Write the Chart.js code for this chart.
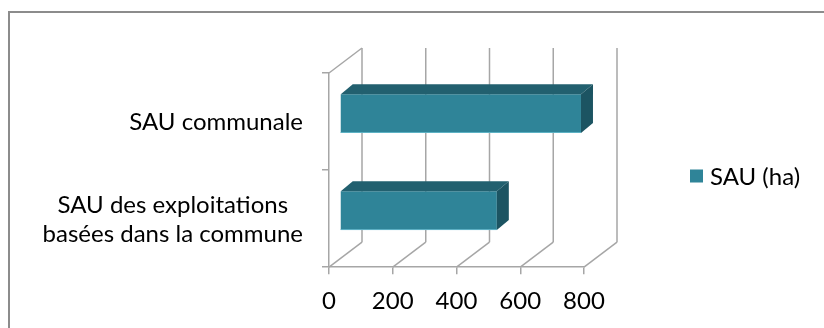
<!DOCTYPE html>
<html>
<head>
<meta charset="utf-8">
<script src="https://cdn.jsdelivr.net/npm/chart.js@4.4.1/dist/chart.umd.min.js"></script>
<style>
  html, body { margin: 0; padding: 0; background: #fff; }
  #wrap { width: 824px; height: 328px; }
</style>
</head>
<body>
<div id="wrap"><canvas id="sauChart" width="824" height="328"></canvas></div>
<script>
// categories, listed top to bottom
const categories = ['SAU communale', ['SAU des exploitations', 'basées dans la commune']];
const seriesLabel = 'SAU (ha)';
const sauValues = [756, 492];
const xMax = 800;
const xStep = 200;

const FONT = 'Lato';
const GRID = '#a6a6a6';
const FRONT = '#2f8498';
const TOP = '#22606f';
const SIDE = '#1c5462';

// depth of the box: back wall offset, and where the bars sit inside it
const WALL_DX = 33, WALL_DY = -25;
const BAR_DX = 11, BAR_DY = -8;
const BAR_DEPTH_X = 12, BAR_DEPTH_Y = -10;

function line(ctx, x1, y1, x2, y2) {
    ctx.beginPath();
    ctx.moveTo(x1, y1);
    ctx.lineTo(x2, y2);
    ctx.stroke();
}

const box3d = {
    id: 'box3d',
    beforeDraw(chart) {
        const ctx = chart.ctx;
        ctx.save();
        ctx.strokeStyle = '#8c8c8c';
        ctx.lineWidth = 2;
        ctx.strokeRect(9, 12, 900, 400);
        ctx.restore();
    },
    beforeDatasetsDraw(chart) {
        const { ctx, chartArea: area, scales: { x } } = chart;
        ctx.save();
        ctx.strokeStyle = GRID;
        ctx.lineWidth = 1.5;
        // side wall top edge
        line(ctx, area.left, area.top, area.left + WALL_DX, area.top + WALL_DY);
        x.ticks.forEach(t => {
            const px = x.getPixelForValue(t.value);
            // floor diagonal
            line(ctx, px, area.bottom, px + WALL_DX, area.bottom + WALL_DY);
            // back wall gridline
            line(ctx, px + WALL_DX, area.bottom + WALL_DY, px + WALL_DX, area.top + WALL_DY);
        });
        ctx.restore();
    },
    beforeDatasetDraw(chart) {
        chart.ctx.save();
        chart.ctx.translate(BAR_DX, BAR_DY);
    },
    afterDatasetDraw(chart, args) {
        const ctx = chart.ctx;
        args.meta.data.forEach(bar => {
            const { x, y, base, height } = bar.getProps(['x', 'y', 'base', 'height'], true);
            const y0 = y - height / 2, y1 = y + height / 2;
            // top face
            ctx.fillStyle = TOP;
            ctx.beginPath();
            ctx.moveTo(base, y0);
            ctx.lineTo(base + BAR_DEPTH_X, y0 + BAR_DEPTH_Y);
            ctx.lineTo(x + BAR_DEPTH_X, y0 + BAR_DEPTH_Y);
            ctx.lineTo(x, y0);
            ctx.closePath();
            ctx.fill();
            // end face
            ctx.fillStyle = SIDE;
            ctx.beginPath();
            ctx.moveTo(x, y0);
            ctx.lineTo(x + BAR_DEPTH_X, y0 + BAR_DEPTH_Y);
            ctx.lineTo(x + BAR_DEPTH_X, y1 + BAR_DEPTH_Y);
            ctx.lineTo(x, y1);
            ctx.closePath();
            ctx.fill();
            // light rim along the lower edge
            ctx.strokeStyle = '#5fb3c6';
            ctx.lineWidth = 1;
            line(ctx, base, y1 - 0.5, x, y1 - 0.5);
        });
        ctx.restore();
    },
    afterDraw(chart) {
        const { ctx, chartArea: area, scales: { y } } = chart;
        ctx.save();
        ctx.fillStyle = '#000';
        ctx.font = '24px ' + FONT;
        ctx.textAlign = 'center';
        ctx.textBaseline = 'middle';
        const right = area.left - 26;
        const lineH = 29;
        categories.forEach((label, i) => {
            const lines = Array.isArray(label) ? label : [label];
            const widest = Math.max(...lines.map(s => ctx.measureText(s).width));
            const cy = y.getPixelForValue(i);
            lines.forEach((s, k) => {
                ctx.fillText(s, right - widest / 2, cy + 1 + (k - (lines.length - 1) / 2) * lineH);
            });
        });

        // legend
        const lx = area.right + 106, ly = 176;
        ctx.fillStyle = chart.data.datasets[0].backgroundColor;
        ctx.fillRect(lx, ly - 6.5, 13, 13);
        ctx.fillStyle = '#000';
        ctx.textAlign = 'left';
        ctx.fillText(chart.data.datasets[0].label, lx + 20, ly + 1);
        ctx.restore();
    }
};

const ctx = document.getElementById('sauChart').getContext('2d');
new Chart(ctx, {
    type: 'bar',
    data: {
        labels: categories,
        datasets: [{
            label: seriesLabel,
            data: sauValues,
            backgroundColor: FRONT,
            barPercentage: 0.4,
            categoryPercentage: 1
        }]
    },
    options: {
        responsive: false,
        animation: false,
        indexAxis: 'y',
        layout: { padding: { left: 322, right: 240, top: 73, bottom: -1 } },
        plugins: {
            legend: { display: false },
            tooltip: { enabled: false }
        },
        scales: {
            x: {
                min: 0,
                max: xMax,
                grid: { drawOnChartArea: false, color: GRID, lineWidth: 1.5, tickLength: 7 },
                border: { color: GRID, width: 1.5 },
                ticks: {
                    stepSize: xStep,
                    color: '#000',
                    font: { family: FONT, size: 24 },
                    padding: 13,
                    maxRotation: 0
                }
            },
            y: {
                grid: { drawOnChartArea: false, color: GRID, lineWidth: 1.5, tickLength: 7, offset: true },
                border: { color: GRID, width: 1.5 },
                ticks: { display: false }
            }
        }
    },
    plugins: [box3d]
});
</script>
</body>
</html>
